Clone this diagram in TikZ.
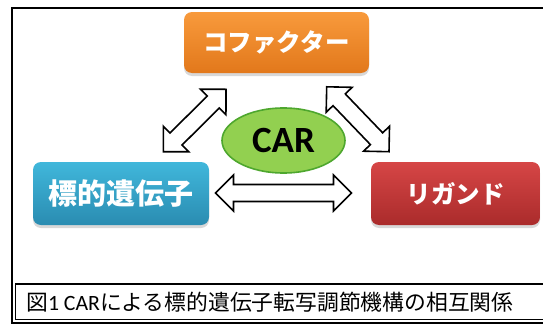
\documentclass[tikz,border=0pt]{standalone}
\usepackage{fontspec}
\newfontfamily\jp{Noto Sans CJK JP}
\newfontfamily\lat{Carlito}
\usetikzlibrary{calc,shapes.geometric,shadows}
\definecolor{orTop}{HTML}{F89A3C}
\definecolor{orBot}{HTML}{E2781B}
\definecolor{blTop}{HTML}{40B7DB}
\definecolor{blBot}{HTML}{2A8CB1}
\definecolor{rdTop}{HTML}{D64646}
\definecolor{rdBot}{HTML}{AA2B2B}
\definecolor{carFill}{HTML}{92D050}
\definecolor{carLine}{HTML}{4EA72E}
\tikzset{
  colbox/.style={rounded corners=8pt, inner sep=0pt, text=white,
    font=\jp\bfseries,
    drop shadow={shadow xshift=0pt, shadow yshift=-3pt, opacity=0.3}},
  blockarrow/.style={draw=black, fill=white, line width=1.6pt, line join=miter},
}
\newcommand\blockarr[2]{%
  \draw[blockarrow] (#1)
    -- ($(#1)!18pt!(#2)!18pt!90:(#2)$)
    -- ($(#1)!18pt!(#2)!8.5pt!90:(#2)$)
    -- ($(#2)!18pt!(#1)!8.5pt!-90:(#1)$)
    -- ($(#2)!18pt!(#1)!18pt!-90:(#1)$)
    -- (#2)
    -- ($(#2)!18pt!(#1)!18pt!90:(#1)$)
    -- ($(#2)!18pt!(#1)!8.5pt!90:(#1)$)
    -- ($(#1)!18pt!(#2)!8.5pt!-90:(#2)$)
    -- ($(#1)!18pt!(#2)!18pt!-90:(#2)$)
    -- cycle;}
\begin{document}
\begin{tikzpicture}[x=1pt,y=-1pt]
\useasboundingbox (0,0) rectangle (543,324);
\clip (0,0) rectangle (543,324);
\fill[white] (0,0) rectangle (543,324);
% outer frame
\draw[line width=2pt] (12,7.5) rectangle (560,322.5);
% caption box
\draw[line width=1.4pt] (15.5,284) rectangle (560,319.5);
\node[anchor=west, inner sep=0pt, font=\jp\fontsize{21.8pt}{24pt}\selectfont] (caption) at (26,302)
  {図{\lat 1 CAR}による標的遺伝子転写調節機構の相互関係};
% boxes
\node[colbox, top color=orTop, bottom color=orBot, minimum width=185pt, minimum height=61pt,
  font=\jp\bfseries\fontsize{24.5pt}{28pt}\selectfont] (cof) at (276.5,42.5) {コファクター};
\node[colbox, top color=blTop, bottom color=blBot, minimum width=176pt, minimum height=63pt,
  font=\jp\bfseries\fontsize{29pt}{32pt}\selectfont] (gene) at (121,193.5) {標的遺伝子};
\node[colbox, top color=rdTop, bottom color=rdBot, minimum width=169pt, minimum height=63pt,
  font=\jp\bfseries\fontsize{24.5pt}{28pt}\selectfont] (lig) at (455.5,193.5) {リガンド};
% CAR
\node[ellipse, draw=carLine, fill=carFill, line width=1.6pt, minimum width=123pt, minimum height=65pt,
  inner sep=0pt, font=\lat\bfseries\fontsize{37pt}{40pt}\selectfont] (car) at (283.5,140.5) {CAR};
% arrow end points
\coordinate (h1) at (215.5,193);
\coordinate (h2) at (351.5,193);
\coordinate (l1) at (163.3,151.7);
\coordinate (l2) at (226,89.3);
\coordinate (r1) at (326.7,86.8);
\coordinate (r2) at (389,151.7);
\blockarr{h1}{h2}
\blockarr{l1}{l2}
\blockarr{r1}{r2}
\end{tikzpicture}
\end{document}
